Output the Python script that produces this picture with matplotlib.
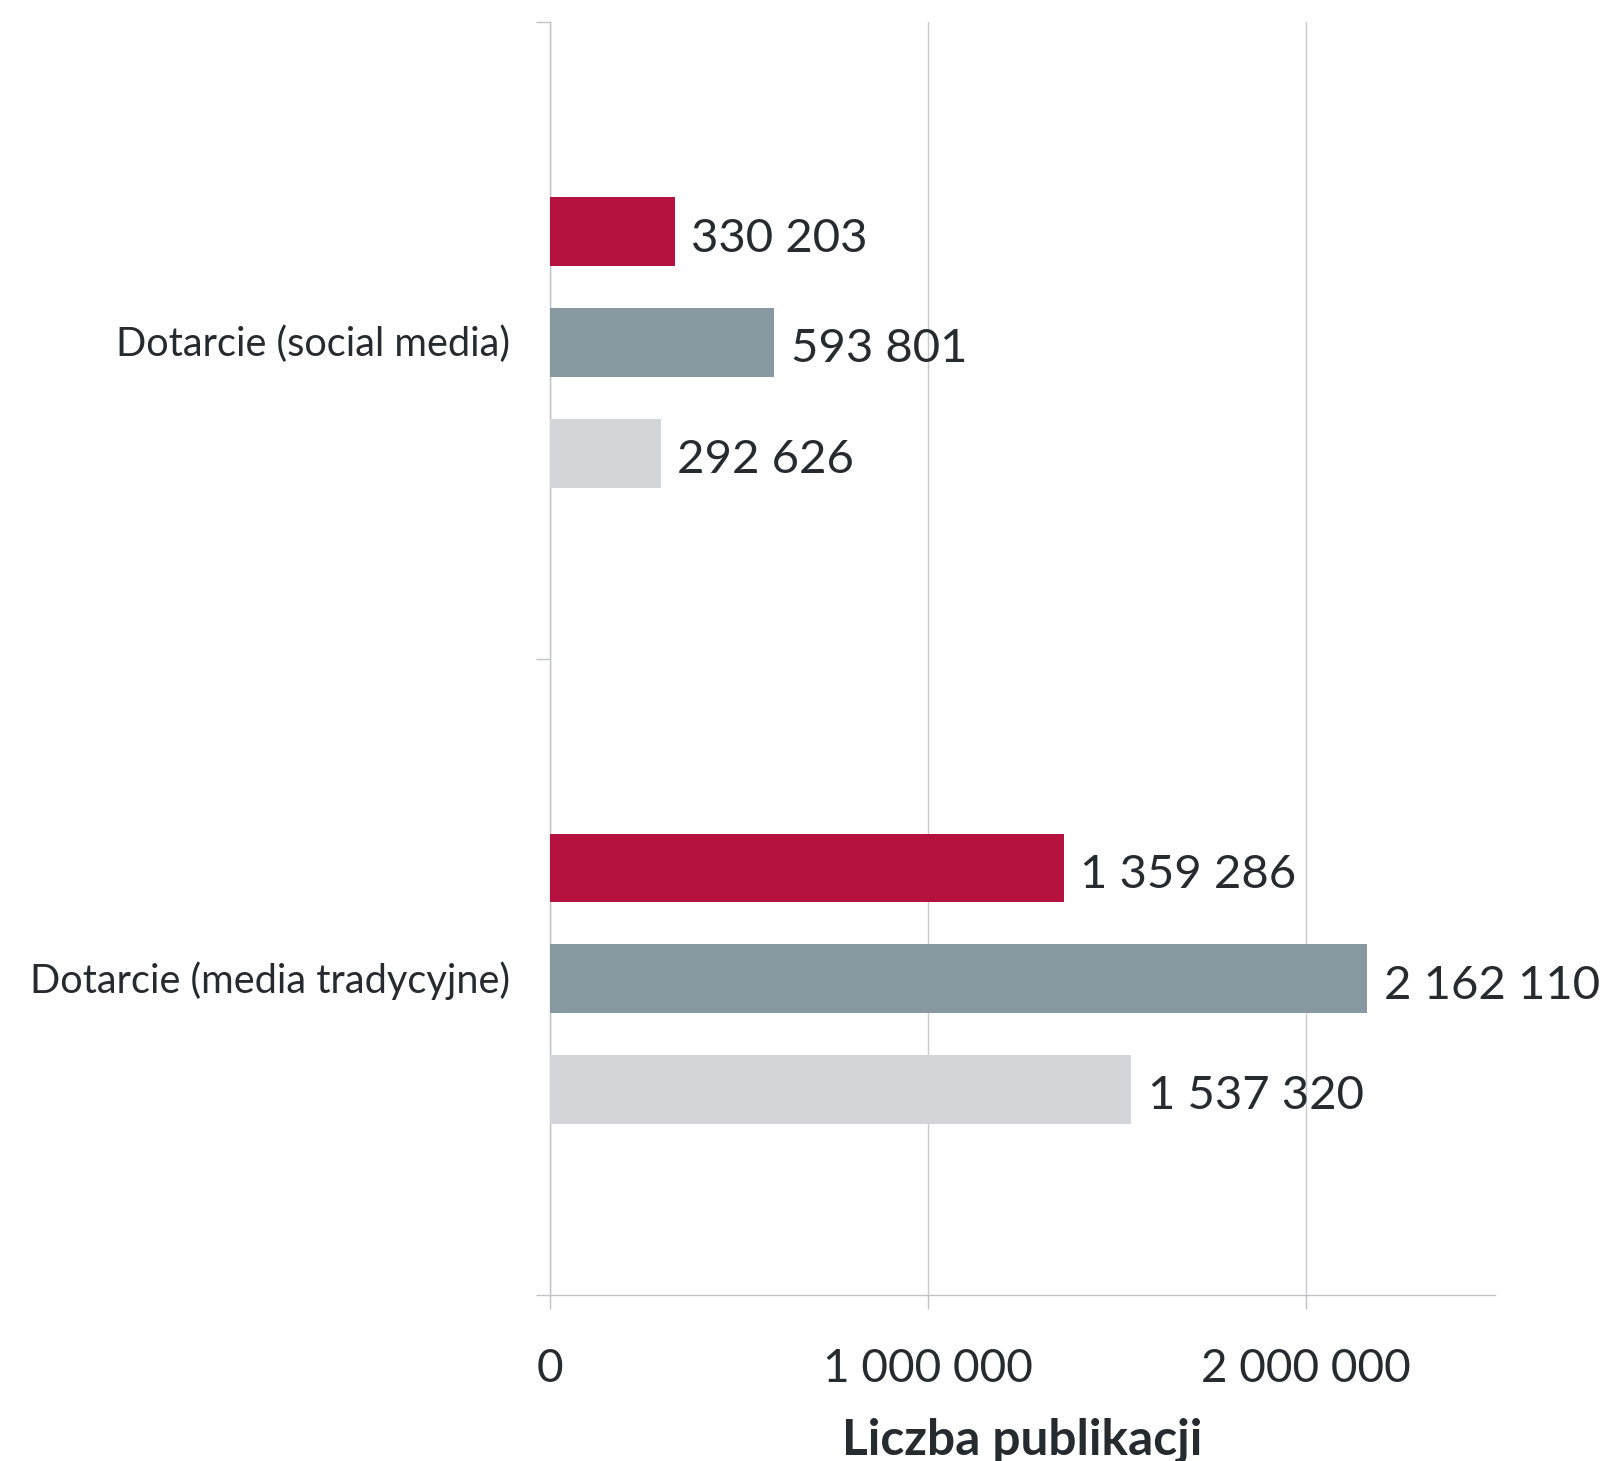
import matplotlib
matplotlib.use("Agg")
import matplotlib.pyplot as plt
import numpy as np
from matplotlib.ticker import FixedLocator, FuncFormatter

plt.rcParams['font.family'] = ['Lato', 'DejaVu Sans']

categories = ["Dotarcie (social media)", "Dotarcie (media tradycyjne)"]
series_a = [330203, 1359286]
series_b = [593801, 2162110]
series_c = [292626, 1537320]
colors = ["#B5123F", "#8898A0", "#D3D6D9"]
xticks = [0, 1000000, 2000000]

TEXT = "#262B30"
LINE = "#BFC3C6"


def fmt(v):
    return f"{int(v):,}".replace(",", " ")


fig = plt.figure(figsize=(16.03, 14.61), dpi=100)
ax = fig.add_axes([0.3431, 0.1136, 0.5895, 0.871])

y = np.arange(len(categories))
pitch = 0.174
h = 0.108
for k, (vals, col) in enumerate(zip([series_a, series_b, series_c], colors)):
    pos = y + (k - 1) * pitch + 0.003
    ax.barh(pos, vals, height=h, color=col, zorder=3)
    for p, v in zip(pos, vals):
        ax.annotate(fmt(v), (v, p), xytext=(12, -5), textcoords='offset points',
                    va='center', ha='left', fontsize=34, color=TEXT, zorder=4)

ax.set_ylim(1.5, -0.5)
ax.set_xlim(0, 2500000)

ax.set_yticks(y)
ax.set_yticklabels(categories, fontsize=28.6, color=TEXT)
ax.yaxis.set_minor_locator(FixedLocator([-0.5, 0.5, 1.5]))
ax.tick_params(axis='y', which='major', length=0, pad=29)
ax.tick_params(axis='y', which='minor', length=10, color=LINE, width=1)

ax.set_xticks(xticks)
ax.xaxis.set_major_formatter(FuncFormatter(lambda v, p: fmt(v)))
ax.tick_params(axis='x', which='major', length=10, color=LINE, width=1,
               labelsize=33, labelcolor=TEXT, pad=28)
ax.grid(axis='x', color="#C8CBCE", lw=1, zorder=0)

for s in ['top', 'right']:
    ax.spines[s].set_visible(False)
for s in ['left', 'bottom']:
    ax.spines[s].set_color(LINE)
    ax.spines[s].set_linewidth(1)

ax.set_xlabel("Liczba publikacji", fontsize=35.7, fontweight='bold',
              color=TEXT, labelpad=20)

fig.savefig("out.png", dpi=100)
